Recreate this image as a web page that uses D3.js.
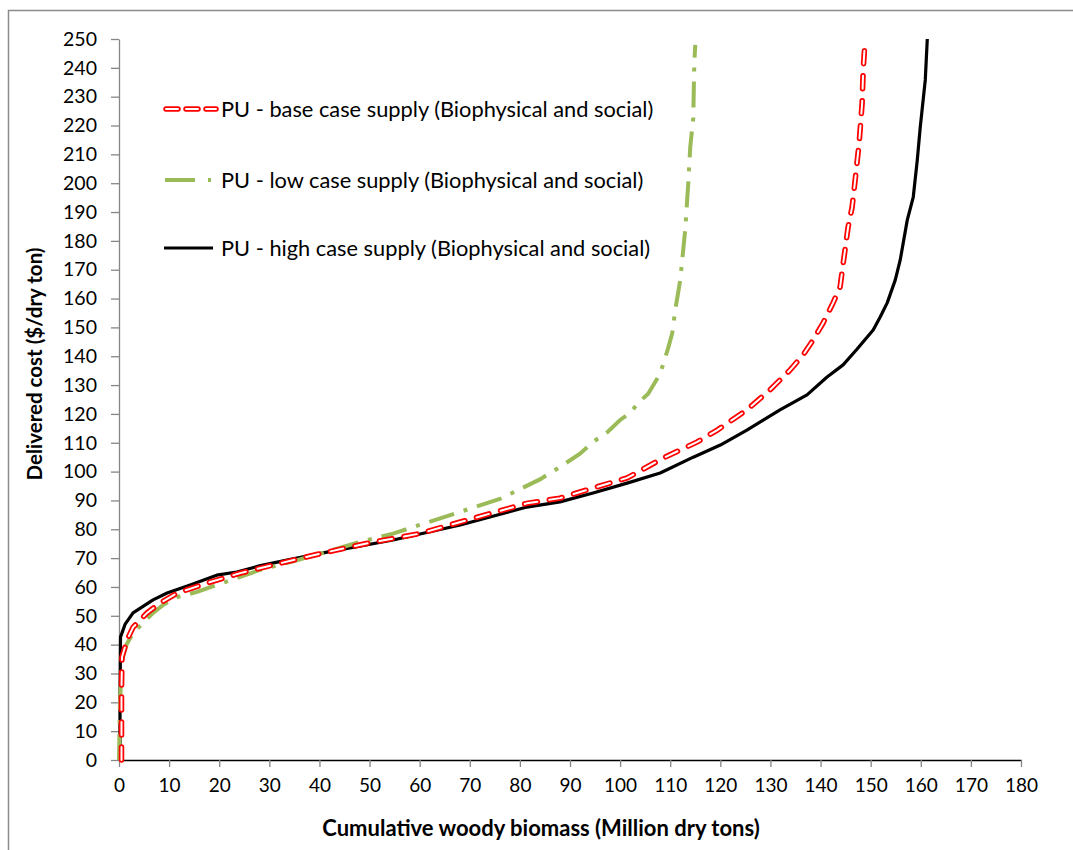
<!DOCTYPE html>
<html>
<head>
<meta charset="utf-8">
<script src="https://cdn.jsdelivr.net/npm/d3@7"></script>
<style>
  html, body { margin: 0; padding: 0; background: #fff; }
  svg { display: block; }
</style>
</head>
<body>
<div id="chart"></div>
<script>
(function () {
  'use strict';

  // ── Data ──
  var lowBiomass = [0, 0.2, 0.6, 1.5, 2.8, 4.8, 6.8, 9, 11.6, 15.6, 20, 24.2, 28.1, 35, 42, 48.1, 54.7,
    60, 68, 76, 84, 88, 92, 94.6, 97.4, 100, 102, 103.6, 105.6, 108, 109.6, 110.4, 111, 112,
    113, 113.6, 114, 114.6, 114.8, 115];
  var lowCost = [0, 20, 34.7, 40, 44, 47.5, 51, 54, 56.5, 58.3, 61, 63.5, 65.9, 69, 72.5, 75.6, 78.5,
    81.5, 86, 90.5, 97.3, 101.6, 106.2, 110.3, 113.6, 117.9, 120.3, 123.8, 127, 134, 142.9, 148, 156, 166.4,
    184, 200, 212.6, 222.6, 241.7, 248];

  var baseBiomass = [0.5, 0.5, 0.6, 1.6, 2.8, 5.6, 8.2, 11.6, 18.2, 24.2, 30.7, 40, 50, 60, 71.5, 81.4,
    88, 94.6, 101.4, 108.6, 112, 115.4, 119.4, 125.3, 129.9, 133.9, 136.5, 138.5, 140.5, 142.5, 143.9,
    144.5, 145.5, 146.3, 146.9, 147.7, 148.3, 148.5, 148.9];
  var baseCost = [0, 25, 35.7, 41.6, 46, 51, 54.4, 57.9, 61.7, 64.8, 67.6, 71.5, 75.3, 78.5, 84.2, 89,
    90.8, 94.3, 97.8, 104.7, 107.5, 110.3, 114.4, 121.4, 128.3, 135.2, 140.4, 145.6, 151.5, 158.5, 164,
    172, 184.8, 191.7, 201, 214, 227.8, 239, 250];

  var highBiomass = [0.2, 0.2, 0.3, 1.2, 2.8, 6.8, 9.6, 14.2, 19.5, 23.5, 28, 33.5, 41.5, 54.7, 68.1,
    81.4, 88, 94.6, 101.4, 108, 114.6, 120, 125.3, 131.9, 137.3, 141.3, 144.5, 147.3, 150.5, 151.9,
    153.3, 154.9, 155.9, 157.3, 158.5, 159.3, 159.9, 160.9, 161.3];
  var highCost = [0, 20, 42.6, 47, 51, 55.5, 57.9, 60.7, 64.1, 65.2, 67.3, 69.3, 72.1, 76.3, 81.5,
    87.7, 89.5, 92.6, 96, 99.5, 105, 109.2, 114.4, 121.4, 126.6, 132.8, 137, 142.5, 149.1, 153.6,
    158.5, 166.4, 173.4, 187.2, 195.2, 208, 219.5, 235.8, 250];

  var xTicks = d3.range(0, 181, 10);
  var yTicks = d3.range(0, 251, 10);
  var seriesNames = [
    'PU - base case supply (Biophysical and social)',
    'PU - low case supply (Biophysical and social)',
    'PU - high case supply (Biophysical and social)'
  ];

  // ── Constants ──
  var WIDTH = 1073;
  var HEIGHT = 850;
  var PLOT = { left: 119, right: 1021, top: 39, bottom: 760 };
  var FONT = 'Lato, "Open Sans", sans-serif';
  var AXIS_GRAY = '#868686';
  var RED = '#ff0000';
  var GREEN = '#9bbb59';

  function zip(xs, ys) {
    return xs.map(function (x, i) { return [x, ys[i]]; });
  }

  var svg = d3.select('#chart').append('svg')
    .attr('width', WIDTH)
    .attr('height', HEIGHT);

  // Outer frame (only left and top edges are visible in the picture)
  svg.append('rect')
    .attr('x', 8.5).attr('y', 10.5)
    .attr('width', 1100).attr('height', 900)
    .attr('fill', 'none')
    .attr('stroke', '#8c8c8c')
    .attr('stroke-width', 1.5);

  var x = d3.scaleLinear().domain([0, 180]).range([PLOT.left, PLOT.right]);
  var y = d3.scaleLinear().domain([0, 250]).range([PLOT.bottom, PLOT.top]);

  // ── Axes ──
  var yAxis = svg.append('g')
    .attr('transform', 'translate(' + PLOT.left + ',0)')
    .call(d3.axisLeft(y).tickValues(yTicks).tickSize(8).tickPadding(14).tickSizeOuter(0));
  yAxis.select('.domain').attr('stroke', AXIS_GRAY).attr('stroke-width', 1.3);
  yAxis.selectAll('.tick line').attr('stroke', AXIS_GRAY).attr('stroke-width', 1.3);
  yAxis.selectAll('.tick text')
    .attr('font-family', FONT).attr('font-size', '19.5px').attr('fill', '#000');

  var xAxis = svg.append('g')
    .attr('transform', 'translate(0,' + PLOT.bottom + ')')
    .call(d3.axisBottom(x).tickValues(xTicks).tickSize(7).tickPadding(12).tickSizeOuter(0));
  xAxis.select('.domain').attr('stroke', '#000').attr('stroke-width', 1.3);
  xAxis.selectAll('.tick line').attr('stroke', AXIS_GRAY).attr('stroke-width', 1.3);
  xAxis.selectAll('.tick text')
    .attr('font-family', FONT).attr('font-size', '19px').attr('fill', '#000');

  // Axis titles
  svg.append('text')
    .attr('x', 541)
    .attr('y', 836)
    .attr('text-anchor', 'middle')
    .attr('font-family', FONT)
    .attr('font-weight', 'bold')
    .attr('font-size', '22px')
    .text('Cumulative woody biomass (Million dry tons)');

  svg.append('text')
    .attr('transform', 'translate(42,364) rotate(-90)')
    .attr('text-anchor', 'middle')
    .attr('font-family', FONT)
    .attr('font-weight', 'bold')
    .attr('font-size', '20.5px')
    .text('Delivered cost ($/dry ton)');

  // ── Lines ──
  var line = d3.line()
    .x(function (d) { return x(d[0]); })
    .y(function (d) { return y(d[1]); })
    .curve(d3.curveLinear);

  var plot = svg.append('g');

  // high case: solid black
  plot.append('path')
    .datum(zip(highBiomass, highCost))
    .attr('d', line)
    .attr('fill', 'none')
    .attr('stroke', '#000')
    .attr('stroke-width', 3.2)
    .attr('stroke-linejoin', 'round');

  // low case: green dash-dot
  plot.append('path')
    .datum(zip(lowBiomass, lowCost))
    .attr('d', line)
    .attr('fill', 'none')
    .attr('stroke', GREEN)
    .attr('stroke-width', 4)
    .attr('stroke-dasharray', '26 10 4 10');

  // base case: red outlined dashes (red stroke with a thinner white core)
  var baseData = zip(baseBiomass, baseCost);
  plot.append('path')
    .datum(baseData)
    .attr('d', line)
    .attr('fill', 'none')
    .attr('stroke', RED)
    .attr('stroke-width', 5.5)
    .attr('stroke-linecap', 'round')
    .attr('stroke-dasharray', '13 12');
  plot.append('path')
    .datum(baseData)
    .attr('d', line)
    .attr('fill', 'none')
    .attr('stroke', '#fff')
    .attr('stroke-width', 2)
    .attr('stroke-linecap', 'round')
    .attr('stroke-dasharray', '13 12');

  // ── Legend ──
  var legendRows = [
    { y: 109, kind: 'base' },
    { y: 180, kind: 'low' },
    { y: 248, kind: 'high' }
  ];
  var legend = svg.append('g');
  legendRows.forEach(function (row, i) {
    var g = legend.append('g').attr('transform', 'translate(0,' + row.y + ')');
    if (row.kind === 'base') {
      g.append('line').attr('x1', 166).attr('x2', 216).attr('y1', 0).attr('y2', 0)
        .attr('stroke', RED).attr('stroke-width', 5.5).attr('stroke-linecap', 'round')
        .attr('stroke-dasharray', '12 8');
      g.append('line').attr('x1', 166).attr('x2', 216).attr('y1', 0).attr('y2', 0)
        .attr('stroke', '#fff').attr('stroke-width', 2).attr('stroke-linecap', 'round')
        .attr('stroke-dasharray', '12 8');
    } else if (row.kind === 'low') {
      g.append('line').attr('x1', 165).attr('x2', 211).attr('y1', 0).attr('y2', 0)
        .attr('stroke', GREEN).attr('stroke-width', 4)
        .attr('stroke-dasharray', '30 13 3 20');
    } else {
      g.append('line').attr('x1', 164).attr('x2', 213).attr('y1', 0).attr('y2', 0)
        .attr('stroke', '#000').attr('stroke-width', 3.2);
    }
    g.append('text')
      .attr('x', 221)
      .attr('y', 0)
      .attr('dy', '0.35em')
      .attr('font-family', FONT)
      .attr('font-size', '21.8px')
      .attr('fill', '#000')
      .text(seriesNames[i]);
  });
})();
</script>
</body>
</html>
